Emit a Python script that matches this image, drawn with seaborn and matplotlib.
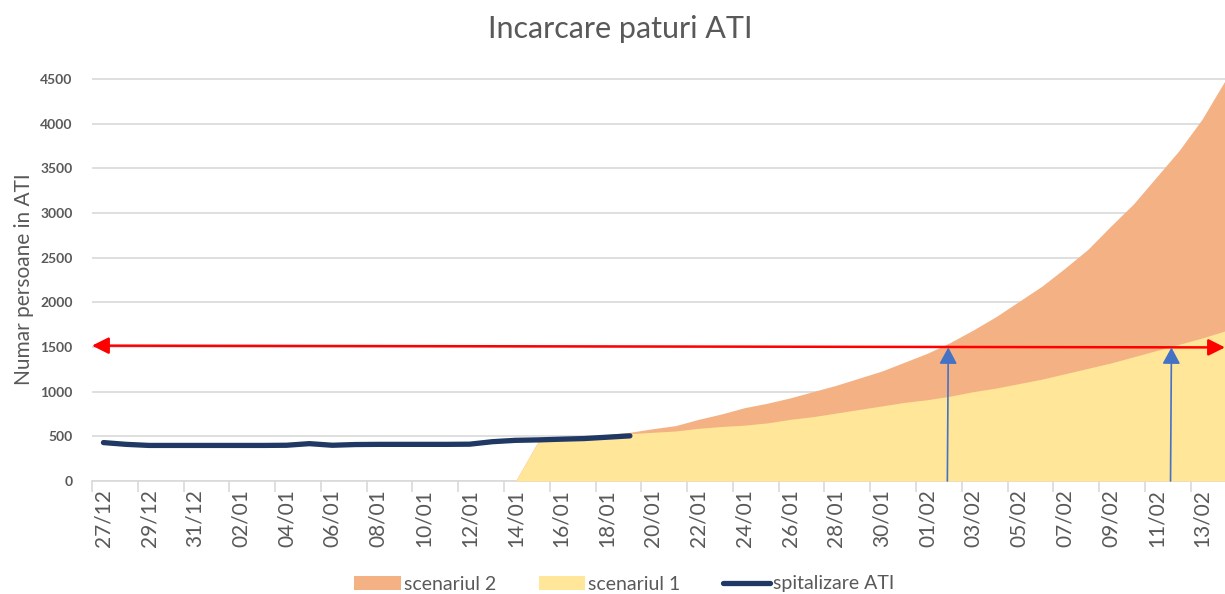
import numpy as np
import pandas as pd
import matplotlib
matplotlib.use("Agg")
import matplotlib.pyplot as plt
import seaborn as sns

# ---- data ----
start_date = "2020-12-27"
n_days = 50  # 27/12 .. 14/02

spitalizare_ati = [430, 410, 398, 398, 398, 398, 398, 398, 400, 418,
                   400, 408, 410, 410, 410, 410, 412, 440, 455, 460,
                   468, 475, 490, 505]  # 27/12 .. 19/01

scenario_start = 18  # 14/01
scenariul_1 = [0, 440, 470, 490, 510, 530, 545, 560, 590, 610,
               625, 650, 690, 720, 760, 800, 840, 880, 910, 950,
               1000, 1040, 1090, 1140, 1200, 1260, 1320, 1390, 1460, 1530,
               1600, 1680]
scenariul_2 = [0, 445, 475, 500, 520, 545, 585, 620, 690, 750,
               820, 870, 930, 1000, 1070, 1150, 1230, 1330, 1430, 1550,
               1690, 1840, 2010, 2180, 2380, 2590, 2850, 3100, 3400, 3700,
               4050, 4480]

capacity = 1500
crossing_days = [36.87, 46.62]  # where the scenarios reach capacity

title = "Incarcare paturi ATI"
ylabel = "Numar persoane in ATI"
legend_labels = ["scenariul 2", "scenariul 1", "spitalizare ATI"]

# ---- frames ----
dates = pd.date_range(start_date, periods=n_days)
tick_labels = [d.strftime("%d/%m") for d in dates]
df_line = pd.DataFrame({"day": np.arange(len(spitalizare_ati)),
                        "val": spitalizare_ati})
sc_days = np.arange(scenario_start, scenario_start + len(scenariul_1))

# ---- style ----
sns.set_theme(style="white")
plt.rcParams["font.family"] = ["Lato", "DejaVu Sans"]

gray = "#595959"
c_orange = "#F4B183"
c_yellow = "#FFE699"
c_navy = "#203864"

fig = plt.figure(figsize=(12.25, 5.94), dpi=100)
ax = fig.add_axes([92 / 1225, 1 - 481 / 594, 1 - 92 / 1225, (481 - 78) / 594])

ax.fill_between(sc_days, 0, scenariul_2, color=c_orange, lw=0, zorder=2,
                label=legend_labels[0])
ax.fill_between(sc_days, 0, scenariul_1, color=c_yellow, lw=0, zorder=3,
                label=legend_labels[1])
sns.lineplot(data=df_line, x="day", y="val", ax=ax, color=c_navy, lw=3.8,
             zorder=5, label=legend_labels[2], solid_capstyle="round")

# grid
ax.set_yticks(np.arange(0, 4501, 500))
ax.yaxis.grid(True, color="#d9d9d9", lw=1.2, zorder=0)
ax.set_axisbelow(True)
for s in ["top", "right", "left"]:
    ax.spines[s].set_visible(False)
ax.spines["bottom"].set_color("#d9d9d9")
ax.spines["bottom"].set_linewidth(1.2)

# x ticks (labels at category centres, tick marks between categories)
ax.set_xticks(np.arange(0, n_days, 2))
ax.set_xticklabels(tick_labels[::2], rotation=90, fontsize=15, color=gray)
ax.set_xticks(np.arange(-0.5, n_days - 1, 2), minor=True)
ax.tick_params(axis="x", which="major", length=0, pad=6)
ax.tick_params(axis="x", which="minor", length=8, width=1.2, color="#d9d9d9",
               direction="out", bottom=True)
ax.tick_params(axis="y", length=0, pad=14)
for t in ax.get_yticklabels():
    t.set_fontsize(10)
    t.set_fontweight("bold")
    t.set_color(gray)

ax.set_xlim(-0.5, n_days - 1)
ax.set_ylim(0, 4510)

ax.set_xlabel("")
ax.set_ylabel(ylabel, fontsize=15, color=gray)
ax.yaxis.set_label_coords(-0.051, 0.5)

# capacity arrow
ax.annotate("", xy=(n_days - 1, capacity - 5), xytext=(-0.5, capacity + 15),
            arrowprops=dict(arrowstyle="<|-|>,head_length=0.5,head_width=0.25",
                            color="#FF0000", lw=1.8, mutation_scale=20,
                            shrinkA=0, shrinkB=0),
            annotation_clip=False, zorder=6)
for xd in crossing_days:
    ax.annotate("", xy=(xd + 0.04, capacity - 5), xytext=(xd, 0),
                arrowprops=dict(arrowstyle="-|>,head_length=0.5,head_width=0.27",
                                color="#4472C4", lw=1.2, mutation_scale=20,
                                shrinkA=0, shrinkB=0),
                annotation_clip=False, zorder=6)

fig.text(620 / 1225, 1 - 29 / 594, title, ha="center", va="center",
         fontsize=22, color=gray)

leg = ax.legend(loc="center", bbox_to_anchor=(624 / 1225, 1 - 584 / 594),
                bbox_transform=fig.transFigure, ncol=3, frameon=False,
                fontsize=14, handlelength=2.4, handletextpad=0.15,
                columnspacing=2.2)
for t in leg.get_texts():
    t.set_color(gray)

fig.savefig("out.png", dpi=100)
